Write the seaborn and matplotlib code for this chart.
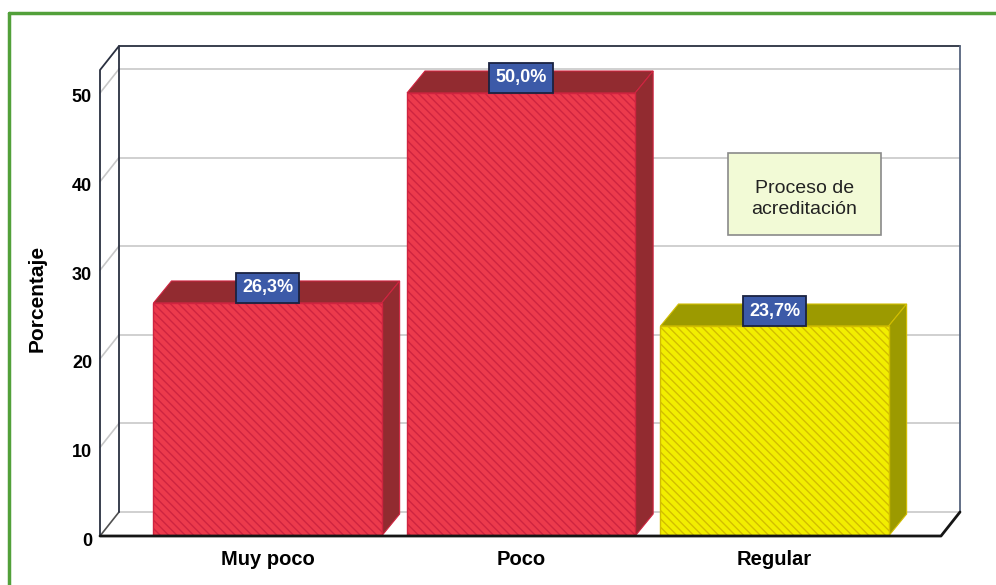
import matplotlib
matplotlib.use("Agg")
import matplotlib.pyplot as plt
import seaborn as sns
from matplotlib.patches import Polygon, Rectangle
from matplotlib.lines import Line2D
from matplotlib.transforms import offset_copy

# Datos
categorias = ["Muy poco", "Poco", "Regular"]
porcentajes = [26.3, 50.0, 23.7]
etiquetas = ["26,3%", "50,0%", "23,7%"]
marcas_y = [0, 10, 20, 30, 40, 50]
titulo_leyenda = "Proceso de\nacreditación"

# Estilo
frente = {"Muy poco": "#EC3A4C", "Poco": "#EC3A4C", "Regular": "#F2EE00"}
borde = {"Muy poco": "#CF2440", "Poco": "#CF2440", "Regular": "#D2BE00"}
oscuro = {"Muy poco": "#922B30", "Poco": "#922B30", "Regular": "#9C9A00"}

sns.set_style("white")
plt.rcParams["font.family"] = ["Liberation Sans", "DejaVu Sans"]
plt.rcParams["hatch.linewidth"] = 1.0
plt.rcParams["text.color"] = "black"
plt.rcParams["xtick.color"] = "black"

W, H = 996, 585
fig = plt.figure(figsize=(W / 100, H / 100), dpi=100)
ax = fig.add_axes([100 / W, (H - 536) / H, 841 / W, (536 - 70) / H])

sns.barplot(x=categorias, y=porcentajes, hue=categorias, palette=frente,
            width=0.9, saturation=1, legend=False, ax=ax, zorder=3)

xl, xr = -0.661, -0.661 + 841 / 253.5
yt = (536 - 70) / 8.86
ax.set_xlim(xl, xr)
ax.set_ylim(0, yt)
for s in ax.spines.values():
    s.set_visible(False)
ax.set_yticks([])
ax.tick_params(axis="x", length=0, pad=10, labelcolor="black")
for lab in ax.get_xticklabels():
    lab.set_fontweight("bold")
    lab.set_fontsize(14.5)

# pixeles por unidad
p0 = ax.transData.transform((0, 0))
p1 = ax.transData.transform((1, 1))
ux, uy = p1[0] - p0[0], p1[1] - p0[1]
bdx, bdy = 18 / ux, 22 / uy
wdx, wdy = 19 / ux, 24 / uy

# paredes y rejilla
ax.add_patch(Rectangle((xl + wdx, wdy), xr - xl, yt, fc="white", ec="none",
                       zorder=0, clip_on=False))
for v in marcas_y:
    col = "#C8C8C8"
    ax.add_line(Line2D([xl + wdx, xr + wdx], [v + wdy, v + wdy], color=col,
                       lw=1.2, zorder=1, clip_on=False))
    ax.add_line(Line2D([xl, xl + wdx], [v, v + wdy], color=col if v else "#505050",
                       lw=1.2, zorder=1, clip_on=False))
marco = "#2A3040"
ax.add_line(Line2D([xl + wdx, xl + wdx, xr + wdx], [wdy, yt + wdy, yt + wdy],
                   color=marco, lw=1.3, zorder=1, clip_on=False))
ax.add_line(Line2D([xr + wdx, xr + wdx], [yt + wdy, wdy], color="#56657E", lw=1.3,
                   zorder=1, clip_on=False))
ax.add_line(Line2D([xl, xl, xl + wdx], [0, yt, yt + wdy], color=marco, lw=1.3,
                   zorder=1, clip_on=False))
ax.add_line(Line2D([xl, xr, xr + wdx], [0, 0, wdy], color="#151515", lw=2,
                   zorder=4, clip_on=False))

# barras en 3D
for p, cat, txt in zip(ax.patches, categorias, etiquetas):
    x0, w, h = p.get_x(), p.get_width(), p.get_height()
    p.set_hatch("\\\\\\\\")
    p.set_edgecolor(borde[cat])
    p.set_linewidth(1.0)
    top = [(x0, h), (x0 + w, h), (x0 + w + bdx, h + bdy), (x0 + bdx, h + bdy)]
    side = [(x0 + w, 0), (x0 + w + bdx, bdy), (x0 + w + bdx, h + bdy), (x0 + w, h)]
    for poly in (top, side):
        ax.add_patch(Polygon(poly, closed=True, fc=oscuro[cat], ec=borde[cat],
                             lw=0.8, zorder=2.5, clip_on=False))
    ax.text(x0 + w / 2, h, txt,
            transform=offset_copy(ax.transData, fig=fig, y=15, units="dots"),
            ha="center", va="center", color="white", fontsize=13,
            fontweight="bold", zorder=6,
            bbox=dict(boxstyle="square,pad=0.35", fc="#3C5AA8", ec="#1A2240", lw=1.3))

# etiquetas del eje y
for v in marcas_y:
    ax.text(0, v, str(v),
            transform=offset_copy(ax.get_yaxis_transform(), fig=fig, x=-8, y=-5,
                                  units="dots"),
            ha="right", va="center", fontsize=13, fontweight="bold")
fig.text(37 / W, 1 - 298 / H, "Porcentaje", rotation=90, ha="center", va="center",
         fontsize=15, fontweight="bold")

# cuadro de leyenda
fig.add_artist(Rectangle((728 / W, 1 - 235 / H), 153 / W, 82 / H,
                         transform=fig.transFigure, fc="#F2FAD6", ec="#8A8A8A", lw=1.2))
fig.text(804.5 / W, 1 - 199 / H, titulo_leyenda, ha="center", va="center",
         fontsize=14, color="#222222", linespacing=1.3)

# borde verde
fig.add_artist(Line2D([8.5 / W, 1], [1 - 12.5 / H] * 2, transform=fig.transFigure,
                      color="#52A03A", lw=2.5))
fig.add_artist(Line2D([8.5 / W, 8.5 / W], [0, 1 - 12.5 / H], transform=fig.transFigure,
                      color="#52A03A", lw=2.5))

fig.savefig("out.png", dpi=100)
